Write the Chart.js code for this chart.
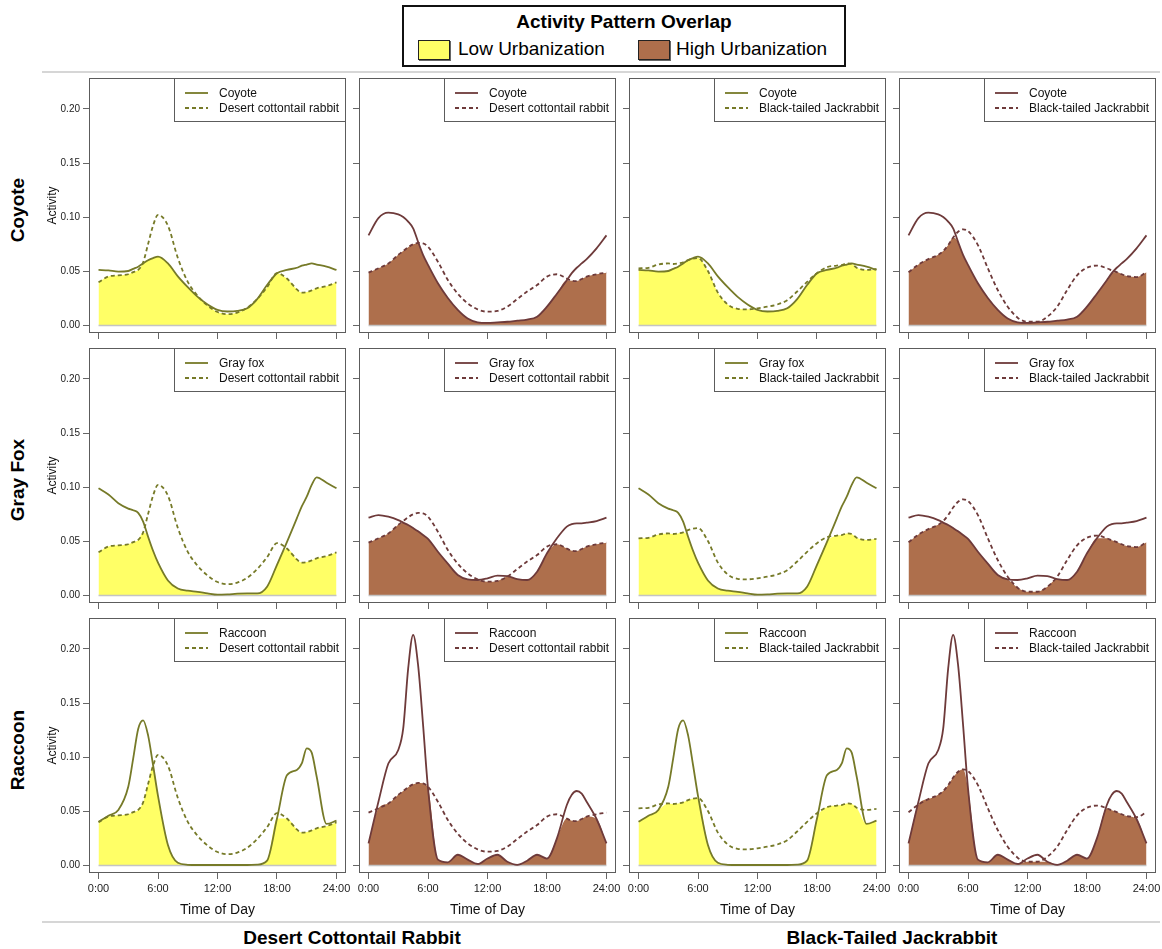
<!DOCTYPE html>
<html>
<head>
<meta charset="utf-8">
<title>Activity Pattern Overlap</title>
<script src="https://cdn.jsdelivr.net/npm/chart.js@4.4.1/dist/chart.umd.min.js"></script>
<style>
  body { margin: 0; background: #fff; font-family: "Liberation Sans", Arial, sans-serif; color: #000; }
  #page { position: relative; width: 1162px; height: 949px; overflow: hidden; }
  #page canvas { position: absolute; }
  .txt { position: absolute; white-space: nowrap; transform: translate(-50%, -50%); }
  .rowlab { position: absolute; white-space: nowrap; font-weight: bold; font-size: 19px;
            transform: translate(-50%, -50%) rotate(-90deg); }
  .rule { position: absolute; height: 2px; background: #d6d6d6; }
  #key { position: absolute; left: 402px; top: 5px; width: 440px; height: 58px; border: 2px solid #111; background: #fff; }
  #key .title { position: absolute; left: 0; right: 0; top: 4px; text-align: center; font-weight: bold; font-size: 19px; }
  #key .sw { position: absolute; top: 33px; width: 30px; height: 18px; border: 1px solid #222; box-shadow: 1px 1px 0 #666; }
  #key .lab { position: absolute; top: 31px; font-size: 19px; }
</style>
</head>
<body>
<div id="page">
  <div class="rule" style="left:42px; top:71px; width:1118px;"></div>
  <div id="key">
    <div class="title">Activity Pattern Overlap</div>
    <div class="sw" style="left:14px; background:#ffff66;"></div>
    <div class="lab" style="left:54px;">Low Urbanization</div>
    <div class="sw" style="left:234px; background:#ae6f4c;"></div>
    <div class="lab" style="left:272px;">High Urbanization</div>
  </div>
  <div class="rule" style="left:42px; top:921px; width:1118px;"></div>
  <div class="txt" style="left:352px; top:938px; font-weight:bold; font-size:19px;">Desert Cottontail Rabbit</div>
  <div class="txt" style="left:892px; top:938px; font-weight:bold; font-size:19px;">Black-Tailed Jackrabbit</div>
</div>
<script>
// Hour of day at which every activity density is read
const hours = [0, 1, 2, 3, 3.5, 4, 4.5, 5, 5.5, 6, 7, 8, 9, 10, 11, 12, 13, 14, 15, 16, 17, 18, 19, 20, 20.5, 21, 21.5, 22, 23, 24];

// Low urbanization activity densities
const coyoteLow      = [0.051, 0.0505, 0.0495, 0.050, 0.052, 0.054, 0.057, 0.060, 0.062, 0.0633, 0.057, 0.045, 0.035, 0.026, 0.019, 0.014, 0.0125, 0.013, 0.0155, 0.024, 0.037, 0.048, 0.051, 0.053, 0.055, 0.056, 0.057, 0.056, 0.054, 0.051];
const grayFoxLow     = [0.0988, 0.093, 0.085, 0.080, 0.0785, 0.076, 0.068, 0.054, 0.041, 0.030, 0.0135, 0.006, 0.004, 0.003, 0.0015, 0.0003, 0.0006, 0.0012, 0.0015, 0.0015, 0.0077, 0.028, 0.049, 0.071, 0.082, 0.091, 0.102, 0.109, 0.104, 0.0988];
const raccoonLow     = [0.040, 0.0457, 0.051, 0.0725, 0.0988, 0.126, 0.134, 0.120, 0.0926, 0.064, 0.0185, 0.002, 0.0002, 0, 0, 0, 0, 0, 0, 0.0003, 0.004, 0.043, 0.083, 0.088, 0.094, 0.108, 0.104, 0.082, 0.038, 0.041];
const cottontailLow  = [0.0395, 0.045, 0.046, 0.047, 0.049, 0.051, 0.058, 0.075, 0.092, 0.102, 0.092, 0.062, 0.040, 0.027, 0.018, 0.012, 0.010, 0.0115, 0.016, 0.024, 0.035, 0.048, 0.043, 0.033, 0.030, 0.0305, 0.032, 0.034, 0.036, 0.0395];
const jackrabbitLow  = [0.0525, 0.053, 0.056, 0.057, 0.0565, 0.057, 0.058, 0.060, 0.0615, 0.062, 0.050, 0.030, 0.019, 0.015, 0.0145, 0.0155, 0.017, 0.019, 0.023, 0.031, 0.040, 0.048, 0.0535, 0.055, 0.0555, 0.057, 0.0565, 0.053, 0.051, 0.052];

// High urbanization activity densities
const coyoteHigh     = [0.083, 0.099, 0.104, 0.1025, 0.100, 0.0957, 0.0895, 0.077, 0.065, 0.0556, 0.0386, 0.025, 0.014, 0.006, 0.0025, 0.002, 0.0025, 0.003, 0.004, 0.005, 0.0077, 0.017, 0.029, 0.0415, 0.048, 0.053, 0.057, 0.061, 0.071, 0.083];
const grayFoxHigh    = [0.0716, 0.074, 0.0725, 0.0694, 0.067, 0.0648, 0.062, 0.059, 0.0555, 0.052, 0.040, 0.029, 0.0185, 0.0145, 0.0139, 0.0154, 0.018, 0.0175, 0.0148, 0.0139, 0.0216, 0.0386, 0.0525, 0.0633, 0.0657, 0.0664, 0.0664, 0.067, 0.0685, 0.0716];
const raccoonHigh    = [0.020, 0.0586, 0.094, 0.1065, 0.1265, 0.182, 0.213, 0.185, 0.130, 0.071, 0.005, 0.0025, 0.0095, 0.005, 0.001, 0.006, 0.0095, 0.003, 0.0002, 0.004, 0.0095, 0.006, 0.0247, 0.0556, 0.065, 0.0685, 0.066, 0.0586, 0.0426, 0.020];
const cottontailHigh = [0.0485, 0.0525, 0.057, 0.065, 0.0685, 0.072, 0.0747, 0.076, 0.0756, 0.0725, 0.0586, 0.0417, 0.029, 0.020, 0.0145, 0.0123, 0.013, 0.017, 0.024, 0.031, 0.037, 0.0448, 0.047, 0.043, 0.041, 0.0407, 0.0426, 0.0448, 0.047, 0.0485];
const jackrabbitHigh = [0.0488, 0.056, 0.061, 0.065, 0.0685, 0.074, 0.081, 0.0864, 0.0886, 0.087, 0.074, 0.0525, 0.0324, 0.017, 0.0068, 0.003, 0.003, 0.0077, 0.017, 0.0324, 0.046, 0.053, 0.055, 0.0525, 0.0506, 0.049, 0.047, 0.0454, 0.0444, 0.0488];

// Axis ticks
const xTickValues = [0, 6, 12, 18, 24];
const xTickLabels = ['0:00', '6:00', '12:00', '18:00', '24:00'];
const yTickValues = [0, 0.05, 0.10, 0.15, 0.20];
const yTickLabels = ['0.00', '0.05', '0.10', '0.15', '0.20'];

// Grid rows (predators) and columns (prey x urbanization level)
const predatorNames = ['Coyote', 'Gray fox', 'Raccoon'];
const rowTitles = ['Coyote', 'Gray Fox', 'Raccoon'];
const predatorLow = [coyoteLow, grayFoxLow, raccoonLow];
const predatorHigh = [coyoteHigh, grayFoxHigh, raccoonHigh];
const preyNames = ['Desert cottontail rabbit', 'Desert cottontail rabbit', 'Black-tailed Jackrabbit', 'Black-tailed Jackrabbit'];
const preyLevels = ['low', 'high', 'low', 'high'];
const preySeries = [cottontailLow, cottontailHigh, jackrabbitLow, jackrabbitHigh];

const palette = {
  low:  { line: '#767a28', fill: '#ffff66' },
  high: { line: '#6e3a3a', fill: '#ae6f4c' }
};

// Panel geometry
const colLeft = [89, 359, 629, 899];
const rowTop = [78, 348, 618];
const boxW = 257, boxH = 255;
const rightSpace = 18;
const FONT = '"Liberation Sans", Arial, sans-serif';
Chart.defaults.font.family = FONT;

// Frame, zero baseline and the two-line key inside each panel
const panelDecor = {
  id: 'panelDecor',
  afterDatasetDraw(chart, args) {
    if (args.index !== 0) return;
    const { ctx } = chart;
    const xs = chart.scales.x, ys = chart.scales.y;
    const y0 = Math.round(ys.getPixelForValue(0)) + 0.5;
    ctx.save();
    ctx.strokeStyle = '#c4c4c4';
    ctx.lineWidth = 1.5;
    ctx.beginPath();
    ctx.moveTo(xs.getPixelForValue(hours[0]), y0);
    ctx.lineTo(xs.getPixelForValue(hours[hours.length - 1]), y0);
    ctx.stroke();
    ctx.restore();
  },
  afterDatasetsDraw(chart) {
    const { ctx, chartArea: a } = chart;
    ctx.save();
    ctx.strokeStyle = '#5c5c5c';
    ctx.lineWidth = 1;
    ctx.strokeRect(a.left + 0.5, a.top + 0.5, a.right - a.left - 1, a.bottom - a.top - 1);

    const kw = 172, kh = 44;
    const kx = a.right - kw, ky = a.top;
    ctx.fillStyle = '#fff';
    ctx.fillRect(kx, ky, kw, kh);
    ctx.strokeRect(kx + 0.5, ky + 0.5, kw - 1, kh - 1);

    const entries = chart.data.datasets.filter(d => d.inKey);
    entries.forEach((d, i) => {
      const yy = ky + 15 + i * 15;
      ctx.strokeStyle = d.borderColor;
      ctx.lineWidth = d.borderWidth;
      ctx.setLineDash(d.borderDash || []);
      ctx.beginPath();
      ctx.moveTo(kx + 11, yy);
      ctx.lineTo(kx + 34, yy);
      ctx.stroke();
      ctx.setLineDash([]);
      ctx.fillStyle = '#111';
      ctx.font = '12px ' + FONT;
      ctx.textBaseline = 'middle';
      ctx.textAlign = 'left';
      ctx.fillText(d.label, kx + 45, yy + 0.5);
    });
    ctx.restore();
  }
};

const page = document.getElementById('page');

function points(series) {
  return hours.map((h, i) => ({ x: h, y: series[i] }));
}

function makePanel(r, c) {
  const hasY = c === 0, hasX = r === 2;
  const leftSpace = hasY ? 59 : 10;
  const bottomSpace = hasX ? 47 : 10;
  const canvas = document.createElement('canvas');
  canvas.width = leftSpace + boxW + rightSpace;
  canvas.height = 2 + boxH + bottomSpace;
  canvas.style.left = (colLeft[c] - leftSpace) + 'px';
  canvas.style.top = (rowTop[r] - 2) + 'px';
  page.appendChild(canvas);

  const level = preyLevels[c];
  const pred = level === 'low' ? predatorLow[r] : predatorHigh[r];
  const prey = preySeries[c];
  const overlap = pred.map((v, i) => Math.min(v, prey[i]));
  const col = palette[level];

  new Chart(canvas, {
    type: 'line',
    data: {
      datasets: [
        { label: 'overlap', data: points(overlap), fill: 'origin', backgroundColor: col.fill,
          borderWidth: 0, borderColor: 'rgba(0,0,0,0)', order: 3, cubicInterpolationMode: 'monotone' },
        { label: predatorNames[r], data: points(pred), borderColor: col.line, borderWidth: 1.8,
          fill: false, order: 1, cubicInterpolationMode: 'monotone', inKey: true },
        { label: preyNames[c], data: points(prey), borderColor: col.line, borderWidth: 1.8,
          borderDash: [4, 3], fill: false, order: 2, cubicInterpolationMode: 'monotone', inKey: true }
      ]
    },
    options: {
      responsive: false,
      animation: false,
      devicePixelRatio: 1,
      events: [],
      layout: { padding: { left: 0, right: rightSpace, top: 2, bottom: 0 } },
      elements: { point: { radius: 0 } },
      plugins: { legend: { display: false }, tooltip: { enabled: false } },
      scales: {
        x: {
          type: 'linear', min: -0.96, max: 24.96,
          afterBuildTicks: s => { s.ticks = xTickValues.map(v => ({ value: v })); },
          afterFit: s => { s.height = bottomSpace; s.paddingLeft = 0; s.paddingRight = 0; },
          border: { display: false },
          grid: { display: true, drawOnChartArea: false, drawTicks: true, tickLength: 6, tickColor: '#666', lineWidth: 1 },
          ticks: { display: hasX, autoSkip: false, maxRotation: 0, padding: 3, color: '#222',
                   font: { size: 11 }, callback: (v, i) => xTickLabels[i] },
          title: { display: hasX, text: 'Time of Day', color: '#111', font: { size: 14 }, padding: { top: 0, bottom: 1 } }
        },
        y: {
          type: 'linear', min: -0.0074, max: 0.2287,
          afterBuildTicks: s => { s.ticks = yTickValues.map(v => ({ value: v })); },
          afterFit: s => { s.width = leftSpace; s.paddingTop = 0; s.paddingBottom = 0; },
          border: { display: false },
          grid: { display: true, drawOnChartArea: false, drawTicks: true, tickLength: 6, tickColor: '#666', lineWidth: 1 },
          ticks: { display: hasY, autoSkip: false, padding: 3, color: '#222',
                   font: { size: 10 }, callback: (v, i) => yTickLabels[i] },
          title: { display: hasY, text: 'Activity', color: '#111', font: { size: 12 }, padding: { top: 15, bottom: 0 } }
        }
      }
    },
    plugins: [panelDecor]
  });
}

for (let r = 0; r < 3; r++) {
  const lab = document.createElement('div');
  lab.className = 'rowlab';
  lab.textContent = rowTitles[r];
  lab.style.left = '18px';
  lab.style.top = (rowTop[r] + 132) + 'px';
  page.appendChild(lab);
  for (let c = 0; c < 4; c++) makePanel(r, c);
}
</script>
</body>
</html>
